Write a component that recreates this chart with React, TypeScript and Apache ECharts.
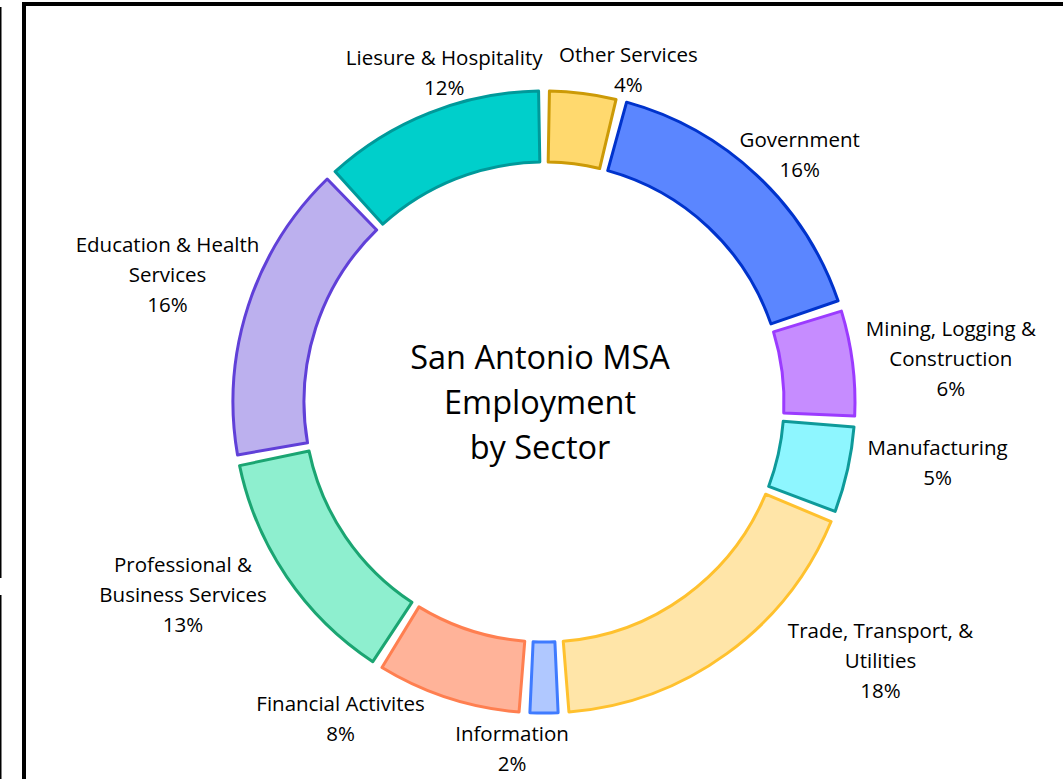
import React, { useEffect, useRef } from "react";
import * as echarts from "echarts";

// ---- data ----
const categories: string[] = [
  "Other Services",
  "Government",
  "Mining, Logging &\nConstruction",
  "Manufacturing",
  "Trade, Transport, &\nUtilities",
  "Information",
  "Financial Activites",
  "Professional &\nBusiness Services",
  "Education & Health\nServices",
  "Liesure & Hospitality",
];
const shares: number[] = [4, 16, 6, 5, 18, 2, 8, 13, 16, 12];

const fillColors: string[] = [
  "#FFD96E", "#5B86FF", "#C68CFF", "#8EF6FF", "#FFE5A8",
  "#B0C8FF", "#FFB399", "#8EEFCF", "#BCB0EE", "#00CFCB",
];
const borderColors: string[] = [
  "#CC9A06", "#0033CC", "#9B3BFF", "#0E9A9A", "#FFC12E",
  "#3F7BFF", "#FF7F50", "#1BA572", "#6040D8", "#00999A",
];

const centerTitle = "San Antonio MSA\nEmployment\nby Sector";

// ---- layout ----
const W = 1063;
const H = 779;
const CX = 544;
const CY = 402;
const R_IN = 240;
const R_OUT = 311;
const LABEL_GAP = 12;
const labelNudge: [number, number][] = [
  [35, 19], [-8, 11], [0, 2], [8, -17], [91, -41],
  [-32, -9], [-77, -22], [-23, -16], [20, -14], [56, 0],
];
const FONT = "'Open Sans', Lato, sans-serif";

export default function App() {
  const ref = useRef<HTMLDivElement>(null);
  useEffect(() => {
    if (!ref.current) return;
    const chart = echarts.init(ref.current, null, { renderer: "svg" });
    const total = shares.reduce((a, b) => a + b, 0);
    const mids: number[] = [];
    let acc = 0;
    shares.forEach((v) => {
      mids.push(((acc + v / 2) / total) * Math.PI * 2);
      acc += v;
    });

    chart.setOption({
      animation: false,
      backgroundColor: "#ffffff",
      textStyle: { fontFamily: FONT },
      graphic: [
        {
          type: "rect",
          shape: { x: 24, y: 4, width: 1200, height: 1000 },
          style: { fill: "none", stroke: "#000", lineWidth: 4 },
        },
        { type: "rect", shape: { x: 0, y: 7, width: 1.5, height: 571 }, style: { fill: "#000" } },
        { type: "rect", shape: { x: 0, y: 595, width: 1.5, height: 184 }, style: { fill: "#000" } },
        {
          type: "text",
          x: 540,
          y: 401,
          style: {
            text: centerTitle,
            fontFamily: FONT,
            fontSize: 32.5,
            lineHeight: 45,
            fill: "#000",
            align: "center",
            verticalAlign: "middle",
          },
        },
      ],
      series: [
        {
          type: "pie",
          center: [CX, CY],
          radius: [R_IN, R_OUT],
          startAngle: 90,
          clockwise: true,
          padAngle: 2,
          avoidLabelOverlap: false,
          label: {
            show: true,
            position: "outside",
            formatter: (p: any) => `${p.name}\n${p.value}%`,
            fontFamily: FONT,
            fontSize: 20.5,
            lineHeight: 30,
            color: "#000",
          },
          labelLine: { show: false },
          labelLayout: (params: any) => {
            const i = params.dataIndex;
            const t = mids[i];
            const ux = Math.sin(t);
            const uy = -Math.cos(t);
            const w = params.labelRect.width;
            const h = params.labelRect.height;
            const r = R_OUT + 2 + LABEL_GAP;
            return {
              x: CX + ux * r + (ux * w) / 2 + labelNudge[i][0],
              y: CY + uy * r + (uy * h) / 2 + labelNudge[i][1],
              align: "center",
              verticalAlign: "middle",
            };
          },
          emphasis: { disabled: true },
          data: categories.map((name, i) => ({
            name,
            value: shares[i],
            itemStyle: {
              color: fillColors[i],
              borderColor: borderColors[i],
              borderWidth: 3,
            },
          })),
        },
      ],
    });
    return () => chart.dispose();
  }, []);
  return (
    <div
      ref={ref}
      style={{ position: "fixed", left: 0, top: 0, width: W, height: H }}
    />
  );
}
